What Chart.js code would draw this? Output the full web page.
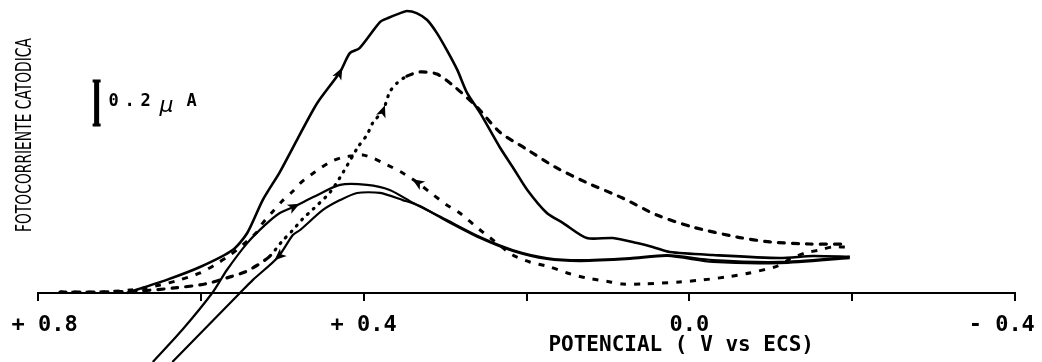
<!DOCTYPE html>
<html>
<head>
<meta charset="utf-8">
<script src="https://cdn.jsdelivr.net/npm/chart.js@4.4.1/dist/chart.umd.min.js"></script>
<style>
  html, body { margin: 0; padding: 0; background: #fff; }
  canvas { display: block; }
</style>
</head>
<body>
<canvas id="fotocorriente" width="1042" height="362"></canvas>
<script>

// barrido continuo, pico grande
const potA = [0.691, 0.642, 0.601, 0.561, 0.543, 0.524, 0.503, 0.482, 0.457, 0.429, 0.417, 0.405, 0.380, 0.370, 0.355, 0.347, 0.335, 0.322, 0.310, 0.298, 0.285, 0.273, 0.257, 0.233, 0.217, 0.199, 0.175, 0.155, 0.126, 0.094, 0.064, 0.045, 0.024, -0.029, -0.111, -0.152, -0.197];
const corA = [0, 0.057, 0.113, 0.187, 0.261, 0.404, 0.526, 0.665, 0.826, 0.961, 1.043, 1.065, 1.178, 1.196, 1.217, 1.226, 1.217, 1.187, 1.130, 1.057, 0.970, 0.870, 0.783, 0.635, 0.548, 0.448, 0.348, 0.304, 0.239, 0.239, 0.217, 0.200, 0.178, 0.165, 0.152, 0.161, 0.157];

// barrido continuo, ida (pico pequeño)
const potB = [0.659, 0.623, 0.586, 0.568, 0.543, 0.521, 0.503, 0.484, 0.462, 0.429, 0.396, 0.368, 0.339, 0.298, 0.257, 0.217, 0.175, 0.134, 0.073, 0.027, -0.029, -0.111, -0.197];
const corB = [-0.300, -0.161, 0, 0.100, 0.217, 0.296, 0.348, 0.378, 0.417, 0.470, 0.470, 0.448, 0.391, 0.317, 0.243, 0.187, 0.152, 0.143, 0.152, 0.165, 0.143, 0.135, 0.157];

// barrido continuo, vuelta
const potC = [-0.197, -0.111, -0.029, 0.027, 0.073, 0.134, 0.175, 0.217, 0.257, 0.298, 0.331, 0.352, 0.380, 0.408, 0.429, 0.450, 0.478, 0.487, 0.505, 0.536, 0.552, 0.635];
const corC = [0.152, 0.130, 0.135, 0.161, 0.148, 0.139, 0.148, 0.183, 0.239, 0.313, 0.378, 0.404, 0.435, 0.435, 0.404, 0.361, 0.274, 0.252, 0.157, 0.057, 0, -0.300];

// barrido discontinuo, ida
const potD = [0.773, 0.724, 0.675, 0.632, 0.595, 0.564, 0.546, 0.530, 0.515, 0.500, 0.488, 0.475, 0.462, 0.441, 0.425, 0.407, 0.396, 0.389, 0.376, 0.368, 0.359, 0.347, 0.331, 0.310, 0.288, 0.261, 0.233, 0.202, 0.165, 0.128, 0.082, 0.040, -0.004, -0.059, -0.099, -0.148, -0.191];
const corD = [0.004, 0.004, 0.009, 0.022, 0.039, 0.070, 0.091, 0.122, 0.161, 0.226, 0.270, 0.322, 0.365, 0.439, 0.526, 0.635, 0.687, 0.739, 0.796, 0.874, 0.913, 0.943, 0.961, 0.952, 0.896, 0.809, 0.700, 0.630, 0.548, 0.483, 0.413, 0.339, 0.287, 0.243, 0.222, 0.213, 0.213];

// barrido discontinuo, vuelta
const potE = [-0.191, -0.175, -0.160, -0.142, -0.124, -0.108, -0.074, -0.046, -0.017, 0.012, 0.057, 0.082, 0.097, 0.126, 0.150, 0.171, 0.196, 0.217, 0.241, 0.257, 0.282, 0.298, 0.319, 0.335, 0.352, 0.371, 0.389, 0.401, 0.414, 0.425, 0.441, 0.460, 0.476, 0.488, 0.499, 0.511, 0.524, 0.531, 0.546, 0.564, 0.583, 0.601, 0.626, 0.650, 0.687, 0.724, 0.773];
const corE = [0.200, 0.200, 0.187, 0.174, 0.148, 0.117, 0.087, 0.070, 0.057, 0.048, 0.039, 0.039, 0.048, 0.065, 0.087, 0.113, 0.135, 0.165, 0.230, 0.274, 0.348, 0.383, 0.439, 0.483, 0.522, 0.557, 0.587, 0.600, 0.596, 0.591, 0.570, 0.526, 0.483, 0.439, 0.404, 0.357, 0.304, 0.265, 0.217, 0.165, 0.122, 0.087, 0.057, 0.035, 0.013, 0.004, 0.004];

// etiquetas del eje de potencial
const ticksValores = [0.8, 0.4, 0.0, -0.4];
const ticksTextos = [' + 0.8', '+ 0.4', '0.0', '- 0.4  '];

// flechas de sentido de barrido: [dataset, punto]
const flechas = [[0, 9], [1, 7], [2, 18], [3, 18], [4, 23]];

const puntos = (xs, ys) => xs.map((v, i) => ({ x: v, y: ys[i] }));

const base = { borderColor: '#000', pointRadius: 0, tension: 0.25, fill: false };

const data = {
  datasets: [
    { ...base, label: 'A', data: puntos(potA, corA), borderWidth: 2.6 },
    { ...base, label: 'B', data: puntos(potB, corB), borderWidth: 2.2 },
    { ...base, label: 'C', data: puntos(potC, corC), borderWidth: 2.2 },
    {
      ...base, label: 'D', data: puntos(potD, corD), borderWidth: 3.2, borderCapStyle: 'round',
      borderDash: [6, 8],
      segment: { borderDash: ctx => (ctx.p0DataIndex >= 8 && ctx.p0DataIndex < 21) ? [1, 7] : [6, 8] }
    },
    { ...base, label: 'E', data: puntos(potE, corE), borderWidth: 3, borderDash: [6, 8] }
  ]
};

const mono = '"DejaVu Sans Mono", "Liberation Mono", monospace';

const flechasPlugin = {
  id: 'flechas',
  afterDatasetsDraw(chart) {
    const ctx = chart.ctx;
    ctx.save();
    ctx.fillStyle = '#000';
    flechas.forEach(([d, i]) => {
      const pts = chart.getDatasetMeta(d).data;
      const p = pts[i], q = pts[i + 1];
      const ang = Math.atan2(q.y - p.y, q.x - p.x);
      ctx.save();
      ctx.translate(p.x, p.y);
      ctx.rotate(ang);
      ctx.beginPath();
      ctx.moveTo(5, 0);
      ctx.lineTo(-7, -5);
      ctx.lineTo(-4, 0);
      ctx.lineTo(-7, 5);
      ctx.closePath();
      ctx.fill();
      ctx.restore();
    });
    ctx.restore();
  }
};

const textosPlugin = {
  id: 'textos',
  afterDraw(chart) {
    const ctx = chart.ctx;
    const xs = chart.scales.x, ys = chart.scales.y;
    ctx.save();
    ctx.fillStyle = '#000';
    ctx.strokeStyle = '#000';

    // titulo eje y (vertical, estrecho)
    ctx.save();
    ctx.translate(25, 135);
    ctx.rotate(-Math.PI / 2);
    ctx.font = '22px "DejaVu Sans Condensed", "Liberation Sans Narrow", sans-serif';
    const txt = 'FOTOCORRIENTE CATODICA';
    const w = ctx.measureText(txt).width;
    ctx.scale(194 / w, 1);
    ctx.textAlign = 'center';
    ctx.textBaseline = 'middle';
    ctx.fillText(txt, 0, 0);
    ctx.restore();

    // barra de escala 0.2 uA
    const bx = xs.getPixelForValue(0.728);
    const y1 = ys.getPixelForValue(0.926), y2 = ys.getPixelForValue(0.726);
    ctx.lineWidth = 5;
    ctx.beginPath(); ctx.moveTo(bx, y1); ctx.lineTo(bx, y2); ctx.stroke();
    ctx.lineWidth = 3;
    ctx.beginPath();
    ctx.moveTo(bx - 4, y1 + 1); ctx.lineTo(bx + 4, y1 + 1);
    ctx.moveTo(bx - 4, y2 - 1); ctx.lineTo(bx + 4, y2 - 1);
    ctx.stroke();

    ctx.textBaseline = 'middle';
    ctx.textAlign = 'left';
    ctx.font = 'bold 17px ' + mono;
    const ym = (y1 + y2) / 2 - 1;
    ctx.fillText('0', bx + 12, ym);
    ctx.fillText('.', bx + 28, ym);
    ctx.fillText('2', bx + 44, ym);
    ctx.font = 'italic 22px "DejaVu Sans", sans-serif';
    ctx.fillText('\u00b5', bx + 63, ym + 4);
    ctx.font = 'bold 17px ' + mono;
    ctx.fillText('A', bx + 90, ym);

    // titulo eje x
    ctx.font = 'bold 21px ' + mono;
    ctx.textAlign = 'center';
    ctx.fillText('POTENCIAL ( V vs ECS)', xs.getPixelForValue(0.01), 346);
    ctx.restore();
  }
};

const config = {
  type: 'line',
  data: data,
  options: {
    responsive: false,
    animation: false,
    devicePixelRatio: 1,
    layout: { padding: { left: 38, right: 27, top: 0, bottom: 0 }, autoPadding: false },
    plugins: { legend: { display: false }, tooltip: { enabled: false } },
    scales: {
      x: {
        type: 'linear',
        reverse: true,
        min: -0.4,
        max: 0.8,
        position: { y: 0 },
        afterFit: (escala) => { escala.paddingLeft = 0; escala.paddingRight = 0; },
        border: { display: true, color: '#000', width: 2 },
        grid: { drawOnChartArea: false, drawTicks: true, tickLength: 7, color: '#000', lineWidth: 2 },
        ticks: {
          stepSize: 0.2,
          autoSkip: false,
          maxRotation: 0,
          padding: 12,
          color: '#000',
          font: { family: mono, size: 22, weight: 'bold' },
          callback: (v) => {
            const k = ticksValores.findIndex(t => Math.abs(t - v) < 1e-6);
            return k >= 0 ? ticksTextos[k] : '';
          }
        }
      },
      y: { type: 'linear', display: false, min: -0.300, max: 1.274 }
    }
  },
  plugins: [flechasPlugin, textosPlugin]
};

new Chart(document.getElementById('fotocorriente'), config);
</script>
</body>
</html>
